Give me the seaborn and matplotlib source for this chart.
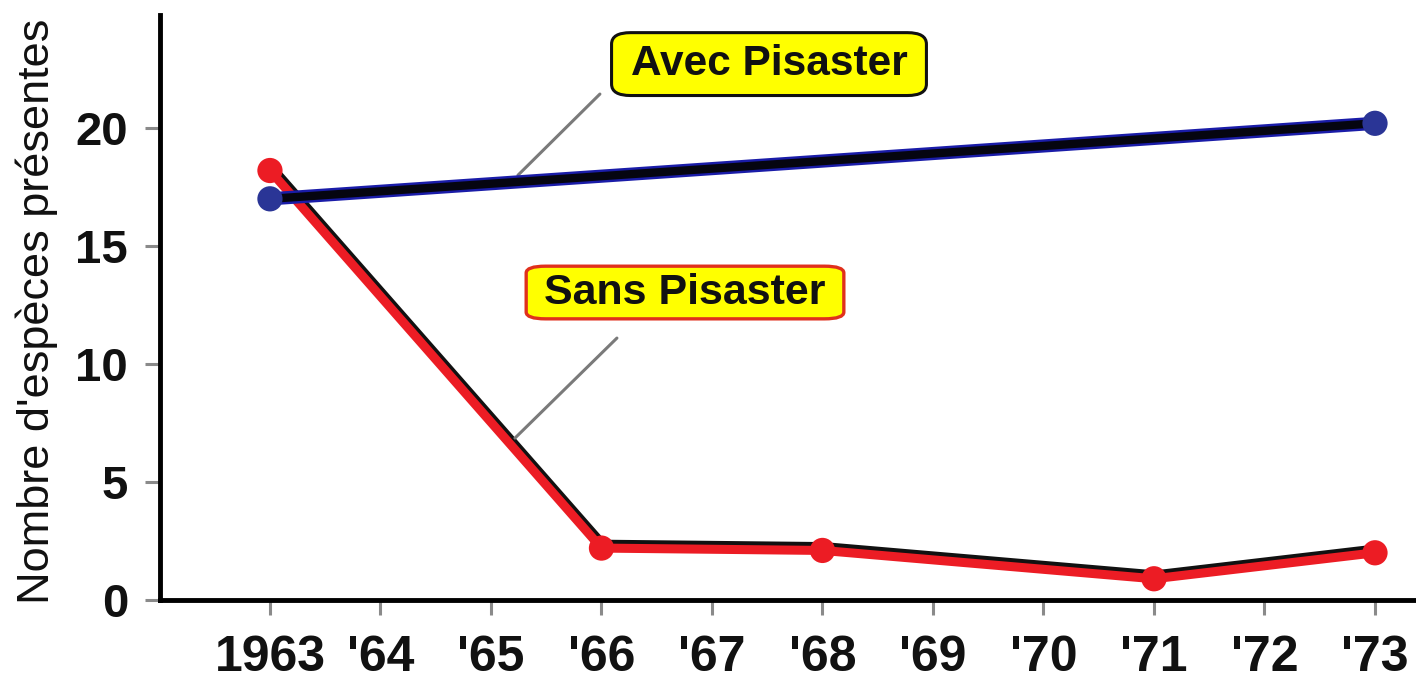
import matplotlib
matplotlib.use("Agg")
import matplotlib.pyplot as plt
import matplotlib.patheffects as pe
import seaborn as sns

# Species counts in the intertidal plots, with and without the predator
years_avec = [1963, 1973]
avec = [17.0, 20.2]

years_sans = [1963, 1966, 1968, 1971, 1973]
sans = [18.2, 2.2, 2.1, 0.9, 2.0]

tick_years = [1963, 1964, 1965, 1966, 1967, 1968, 1969, 1970, 1971, 1972, 1973]
tick_labels = ["1963", "'64", "'65", "'66", "'67", "'68", "'69", "'70", "'71", "'72", "'73"]
y_ticks = [0, 5, 10, 15, 20]

label_avec = "Avec Pisaster"
label_sans = "Sans Pisaster"
y_title = "Nombre d'espèces présentes"

sns.set_theme(style="white")
plt.rcParams["font.family"] = ["Liberation Sans", "DejaVu Sans"]

RED = "#ec1c24"
BLUE = "#2a3596"

fig = plt.figure(figsize=(14.16, 6.87), dpi=100)
ax = fig.add_axes([160 / 1416, 1 - 600 / 687, 1 - 160 / 1416, 585 / 687])

# "Sans Pisaster": red line with a dark shadow stroke just above it
sns.lineplot(x=years_sans, y=sans, ax=ax, color=RED, lw=6.5, sort=False,
             solid_capstyle="round", solid_joinstyle="round", zorder=2,
             path_effects=[pe.Stroke(offset=(0.8, 2.8), linewidth=6.5, foreground="#111111"),
                           pe.Normal()])
sns.scatterplot(x=years_sans, y=sans, ax=ax, color=RED, s=330, edgecolor="none",
                linewidth=0, zorder=3)

# "Avec Pisaster": dark line with a navy halo
sns.lineplot(x=years_avec, y=avec, ax=ax, color="#050510", lw=6.0, sort=False,
             solid_capstyle="round", zorder=4,
             path_effects=[pe.Stroke(linewidth=9.5, foreground="#1a1ca8"), pe.Normal()])
sns.scatterplot(x=years_avec, y=avec, ax=ax, color=BLUE, s=330, edgecolor="none",
                linewidth=0, zorder=5)

ax.set_xlim(1962.005, 1973.371)
ax.set_ylim(0, 24.79)
ax.set_xticks(tick_years)
ax.set_xticklabels(tick_labels)
ax.set_yticks(y_ticks)
ax.set_yticklabels([str(v) for v in y_ticks])

for side in ("top", "right"):
    ax.spines[side].set_visible(False)
for side in ("left", "bottom"):
    ax.spines[side].set_color("black")
    ax.spines[side].set_linewidth(3.5)

ax.tick_params(axis="x", which="major", direction="out", length=11, width=2.2,
               color="#8a8a8a", pad=14, labelsize=36, labelcolor="#111111", bottom=True)
ax.tick_params(axis="y", which="major", direction="out", length=11, width=2.2,
               color="#8a8a8a", pad=12, labelsize=34, labelcolor="#111111", left=True)
for lab in ax.get_xticklabels() + ax.get_yticklabels():
    lab.set_fontweight("bold")

ax.set_ylabel(y_title, fontsize=32.5, color="#111111")
ax.yaxis.set_label_coords(-0.081, 0.494)
ax.set_xlabel("")

# Callout labels with leader lines
t_avec = ax.text(1967.516, 22.71, label_avec, ha="center", va="center", fontsize=30.5,
                 fontweight="bold", color="#111111", zorder=6,
                 bbox=dict(boxstyle="round,pad=0.45,rounding_size=0.45",
                           facecolor="#ffff00", edgecolor="#111111", linewidth=2.2))
t_avec.get_bbox_patch().set_mutation_aspect(0.6)
ax.annotate("", xy=(1965.244, 18.0), xytext=(1965.986, 21.44),
            arrowprops=dict(arrowstyle="-", color="#7a7a7a", lw=2.2,
                            shrinkA=0, shrinkB=0), zorder=3)

t_sans = ax.text(1966.756, 13.03, label_sans, ha="center", va="center", fontsize=31,
                 fontweight="bold", color="#111111", zorder=6,
                 bbox=dict(boxstyle="round,pad=0.42,rounding_size=0.45",
                           facecolor="#ffff00", edgecolor="#e0301c", linewidth=2.4))
t_sans.get_bbox_patch().set_mutation_aspect(0.35)
ax.annotate("", xy=(1965.217, 6.86), xytext=(1966.14, 11.10),
            arrowprops=dict(arrowstyle="-", color="#7a7a7a", lw=2.2,
                            shrinkA=0, shrinkB=0), zorder=3)

fig.savefig("out.png", dpi=100, facecolor="white")
